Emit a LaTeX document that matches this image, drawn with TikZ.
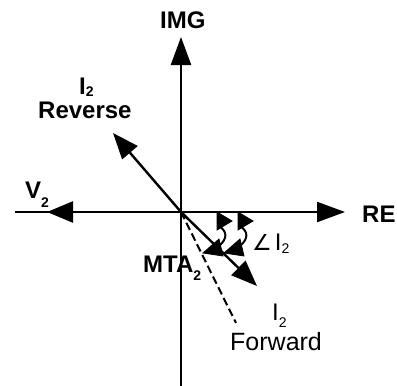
\documentclass[tikz,border=0pt]{standalone}
\usepackage{fontspec}
\setmainfont{Liberation Sans}
\newfontfamily\symfont{DejaVu Sans}
\usetikzlibrary{arrows.meta}
\newcommand\subtwo[1]{\raisebox{-#1}{\fontsize{14}{14}\selectfont 2}}
\begin{document}
\begin{tikzpicture}[x=1pt,y=-1pt,
  axis/.style={line width=2.4pt,-{Triangle[length=28pt,width=20pt]}},
  vec/.style={line width=2.4pt,-{Triangle[length=26pt,width=20pt]}},
  arcline/.style={line width=2pt},
  archead/.style={fill=black,draw=black,line width=0.8pt,line join=miter},
  lbl/.style={inner sep=0pt,anchor=base west,font=\fontsize{24}{24}\selectfont\bfseries},
  lblr/.style={inner sep=0pt,anchor=base west,font=\fontsize{24}{24}\selectfont}]
\useasboundingbox (0,0) rectangle (397,386);
% points
\coordinate (O) at (181,212);
\coordinate (top) at (181,37);
\coordinate (bot) at (181,386);
\coordinate (left) at (15,212);
\coordinate (right) at (345,212);
\coordinate (v2tip) at (47,212);
\coordinate (revtip) at (113,133);
\coordinate (fwdtip) at (257,286);
\coordinate (dashend) at (236,323);
% axes
\draw[line width=2.4pt] (bot) -- (O);
\draw[axis] (O) -- (top);
\draw[axis] (left) -- (right);
\draw[vec,-{Triangle[length=26pt,width=21pt]}] (O) -- (v2tip);
% vectors
\draw[vec] (O) -- (revtip);
\draw[vec] (O) -- (fwdtip);
\draw[line width=2pt,dash pattern=on 8pt off 4pt] (O) -- (dashend);
% angle arcs (double-headed curved arrows)
\foreach \dx in {0,21}{
  \begin{scope}[xshift=\dx pt]
    \draw[arcline] (219,226) .. controls (228,232) and (227,239) .. (219,246);
    \filldraw[archead] (217,212) -- (217,230) -- (232,221) -- cycle;
    \filldraw[archead] (203,253) -- (219,239) -- (223,256) -- cycle;
  \end{scope}
}
% labels
\node[lbl] (img) at (160,28) {IMG};
\node[lbl] (re) at (362,222) {RE};
\node[lbl] (i2r) at (79,94) {I\subtwo{2pt}};
\node[lbl] (rev) at (38,118) {Reverse};
\node[lbl] (v2) at (25,198) {V\subtwo{9pt}};
\node[lbl] (mta) at (143,272) {MTA\subtwo{8pt}};
\node[lblr] (ang) at (252,250) {{\symfont\fontsize{22}{22}\selectfont ∠}\hspace{3pt}I\subtwo{3pt}};
\node[lblr] (i2f) at (272,320) {I\subtwo{7pt}};
\node[lblr,font=\fontsize{25}{25}\selectfont] (fwd) at (230,350) {Forward};
\end{tikzpicture}
\end{document}
